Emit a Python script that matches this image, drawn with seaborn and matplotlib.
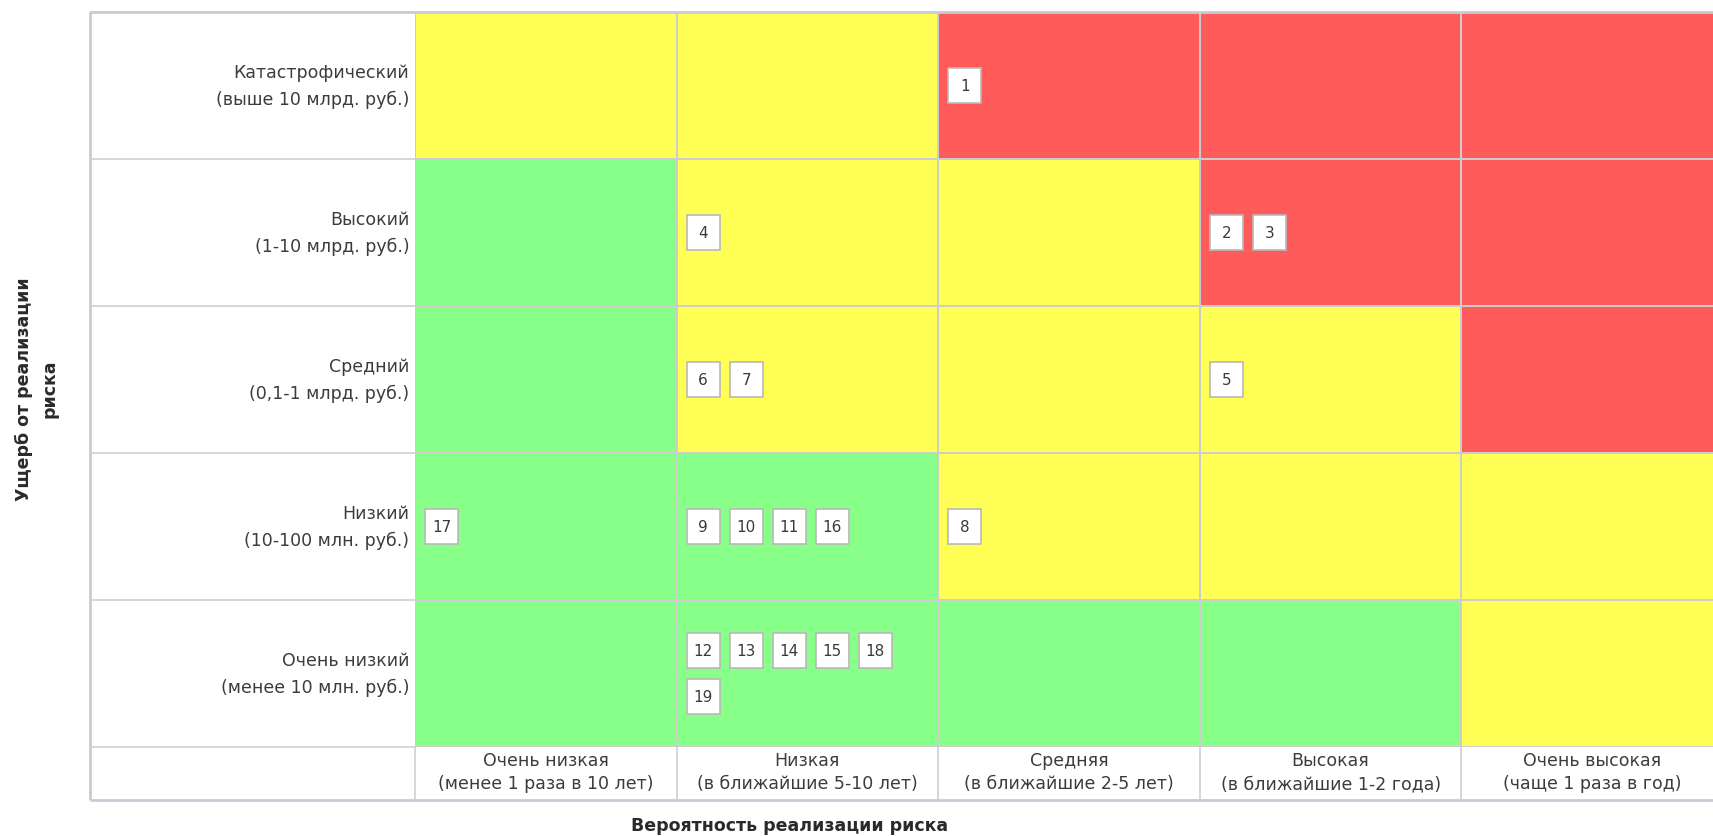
import matplotlib
matplotlib.use('Agg')
import matplotlib.pyplot as plt
from matplotlib.colors import ListedColormap
from matplotlib.patches import Rectangle
from collections import defaultdict
import seaborn as sns
import pandas as pd
import numpy as np

# axis categories
impact_labels = ['Катастрофический\n(выше 10 млрд. руб.)',
                 'Высокий\n(1-10 млрд. руб.)',
                 'Средний\n(0,1-1 млрд. руб.)',
                 'Низкий\n(10-100 млн. руб.)',
                 'Очень низкий\n(менее 10 млн. руб.)']
prob_labels = ['Очень низкая\n(менее 1 раза в 10 лет)',
               'Низкая\n(в ближайшие 5-10 лет)',
               'Средняя\n(в ближайшие 2-5 лет)',
               'Высокая\n(в ближайшие 1-2 года)',
               'Очень высокая\n(чаще 1 раза в год)']

# risk zone per cell: 0 green, 1 yellow, 2 red
zones = [[1, 1, 2, 2, 2],
         [0, 1, 1, 2, 2],
         [0, 1, 1, 1, 2],
         [0, 0, 1, 1, 1],
         [0, 0, 0, 0, 1]]

# risks: number, impact row, probability column
risk_ids    = [1, 2, 3, 4, 5, 6, 7, 8, 9, 10, 11, 16, 17, 12, 13, 14, 15, 18, 19]
risk_impact = [0, 1, 1, 1, 2, 2, 2, 3, 3, 3, 3, 3, 3, 4, 4, 4, 4, 4, 4]
risk_prob   = [2, 3, 3, 1, 3, 1, 1, 2, 1, 1, 1, 1, 0, 1, 1, 1, 1, 1, 1]

zone_colors = ['#88ff88', '#ffff55', '#ff5b5b']
grid_col = '#cccccc'
border_col = '#c8ccd6'
text_col = '#3c3c3c'

sns.set_style('white')
plt.rcParams['font.family'] = ['DejaVu Sans']

fig = plt.figure(figsize=(17.13, 8.37), dpi=100)
W, H = 1713.0, 837.0
ax = fig.add_axes([415 / W, 1 - 748 / H, 1308 / W, 735 / H])

df = pd.DataFrame(zones, index=impact_labels, columns=prob_labels)
sns.heatmap(df, cmap=ListedColormap(zone_colors), vmin=-0.5, vmax=2.5,
            cbar=False, linewidths=1.1, linecolor=grid_col, ax=ax)

ax.tick_params(length=0)
ax.tick_params(axis='y', pad=4)
ax.tick_params(axis='x', pad=3)
ax.set_xlabel('')
ax.set_ylabel('')
for t in ax.get_yticklabels():
    t.set_rotation(0)
    t.set_ha('right')
    t.set_fontsize(12.5)
    t.set_color(text_col)
    t.set_linespacing(1.55)
    t.set_multialignment('right')
for t in ax.get_xticklabels():
    t.set_rotation(0)
    t.set_fontsize(12.5)
    t.set_color(text_col)
    t.set_linespacing(1.35)
    t.set_multialignment('center')

# table frame around labels column and header row
nr, nc = df.shape
x_left = (89.6 - 415) / (1308 / 5)
y_bot = nr + (801 - 748) / 147.0
ax.hlines(range(nr + 1), x_left, 0, colors=grid_col, lw=1.1, clip_on=False)
ax.vlines(range(nc + 1), nr, y_bot, colors=grid_col, lw=1.1, clip_on=False)
ax.hlines([0, y_bot], x_left, nc, colors=border_col, lw=2, clip_on=False)
ax.vlines([x_left], 0, y_bot, colors=border_col, lw=2, clip_on=False)

# risk markers
bw, bh = 33 / 261.6, 35 / 147.0
step_x, step_y = 43 / 261.6, 46 / 147.0
inset = 10 / 261.6
per_line = 5
cells = defaultdict(list)
for rid, r, c in zip(risk_ids, risk_impact, risk_prob):
    cells[(r, c)].append(rid)
for (r, c), ids in cells.items():
    nlines = int(np.ceil(len(ids) / per_line))
    block = nlines * bh + (nlines - 1) * (step_y - bh)
    top = r + 0.5 - block / 2
    for k, rid in enumerate(ids):
        x0 = c + inset + (k % per_line) * step_x
        y0 = top + (k // per_line) * step_y
        ax.add_patch(Rectangle((x0, y0), bw, bh, facecolor='white',
                               edgecolor='#b9b9b9', lw=1.2, zorder=3))
        ax.text(x0 + bw / 2, y0 + bh / 2, str(rid), ha='center', va='center',
                fontsize=11, color='#3a3a3a', zorder=4)

fig.text(37 / W, 1 - 389 / H, 'Ущерб от реализации\nриска', rotation=90,
         ha='center', va='center', fontsize=12.5, fontweight='bold',
         color='#2a2a2a', multialignment='center', linespacing=1.55)
fig.text(790 / W, 1 - 826 / H, 'Вероятность реализации риска',
         ha='center', va='center', fontsize=12.5, fontweight='bold',
         color='#2a2a2a')

fig.savefig('out.png', dpi=100)
